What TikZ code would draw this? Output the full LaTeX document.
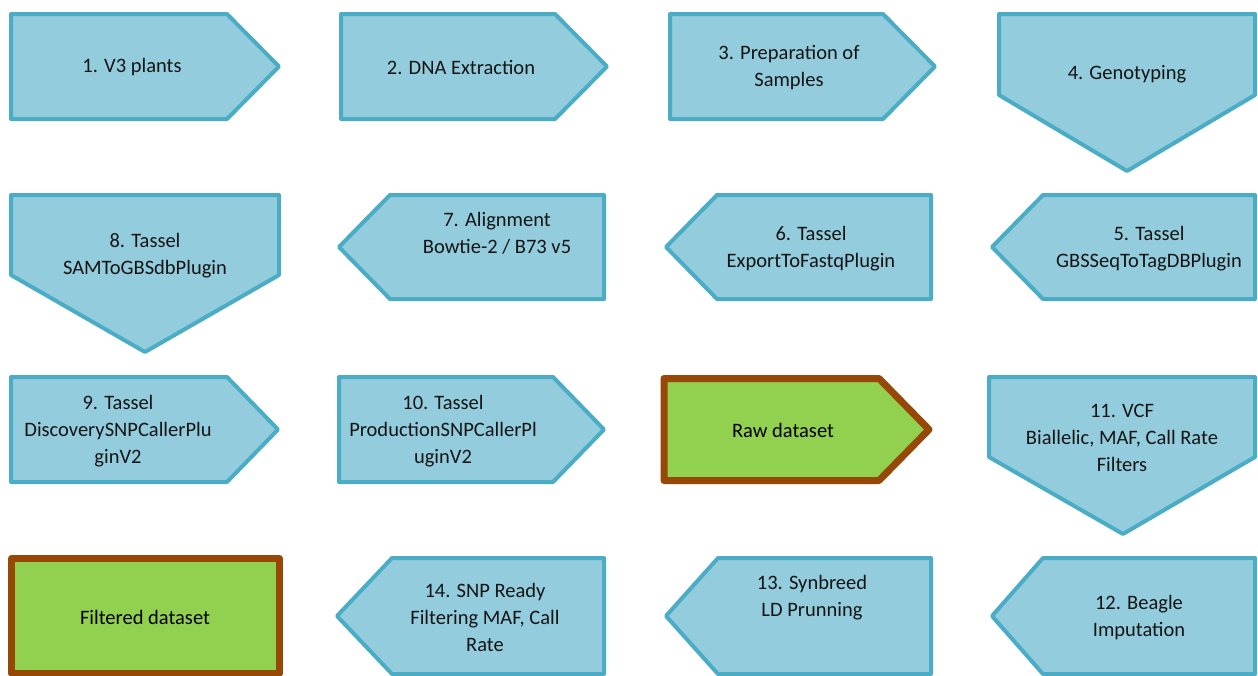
\documentclass[tikz,border=0pt]{standalone}
\usepackage{fontspec}
\setmainfont{Carlito}
\definecolor{bfill}{HTML}{93CDDD}
\definecolor{bline}{HTML}{4BACC6}
\definecolor{gfill}{HTML}{92D050}
\definecolor{brline}{HTML}{984806}
\definecolor{txt}{HTML}{141414}
\tikzset{
  bluebox/.style={fill=bfill,draw=bline,line width=4pt,line join=round},
  brownbox/.style={fill=gfill,draw=brline,line width=7pt,line join=round},
  lbl/.style={text=txt,align=center,inner sep=0pt,font=\fontsize{20.5}{27}\selectfont},
}
\begin{document}
\begin{tikzpicture}[x=1pt,y=-1pt]
\useasboundingbox (0,0) rectangle (1258,675);
% row 1
\draw[bluebox] (11,14) -- (227,14) -- (279,66.5) -- (227,119) -- (11,119) -- cycle;
\draw[bluebox] (341,14) -- (555,14) -- (607,66.5) -- (555,119) -- (341,119) -- cycle;
\draw[bluebox] (670,14) -- (883,14) -- (935,66.5) -- (883,119) -- (670,119) -- cycle;
\draw[bluebox] (999,14) -- (1255,14) -- (1255,95) -- (1127,171) -- (999,95) -- cycle;
\node[lbl] (t1) at (132,67) {1. V3 plants};
\node[lbl] (t2) at (461,67) {2. DNA Extraction};
\node[lbl] (t3) at (789,67.5) {3. Preparation of\\Samples};
\node[lbl] (t4) at (1127,74) {4. Genotyping};
% row 2
\draw[bluebox] (11,195) -- (279,195) -- (279,275) -- (145,352) -- (11,275) -- cycle;
\draw[bluebox] (339,247) -- (390,195) -- (604,195) -- (604,299) -- (390,299) -- cycle;
\draw[bluebox] (666,247) -- (717,195) -- (931,195) -- (931,299) -- (717,299) -- cycle;
\draw[bluebox] (992,247) -- (1043,195) -- (1255,195) -- (1255,299) -- (1043,299) -- cycle;
\node[lbl] (t8) at (145,255.5) {8. Tassel\\SAMToGBSdbPlugin};
\node[lbl] (t7) at (497,233.5) {7. Alignment\\Bowtie-2 / B73 v5};
\node[lbl] (t6) at (811,248.5) {6. Tassel\\ExportToFastqPlugin};
\node[lbl] (t5) at (1149,248.5) {5. Tassel\\GBSSeqToTagDBPlugin};
% row 3
\draw[bluebox] (11,377) -- (227,377) -- (278,429.5) -- (227,482) -- (11,482) -- cycle;
\draw[bluebox] (339,377) -- (553,377) -- (604,429.5) -- (553,482) -- (339,482) -- cycle;
\draw[brownbox] (664,378.5) -- (879,378.5) -- (929,429.5) -- (879,480.5) -- (664,480.5) -- cycle;
\draw[bluebox] (989,377) -- (1255,377) -- (1255,457) -- (1123,534) -- (989,457) -- cycle;
\node[lbl] (t9) at (118,431) {9. Tassel\\DiscoverySNPCallerPlu\\ginV2};
\node[lbl] (t10) at (443,431) {10. Tassel\\ProductionSNPCallerPl\\uginV2};
\node[lbl,text=black] (traw) at (783,430) {Raw dataset};
\node[lbl] (t11) at (1122,438) {11. VCF\\Biallelic, MAF, Call Rate\\Filters};
% row 4
\draw[brownbox] (11.5,558.5) rectangle (279.5,673);
\draw[bluebox] (337,616) -- (392,558) -- (604,558) -- (604,674) -- (392,674) -- cycle;
\draw[bluebox] (666,616) -- (718,558) -- (931,558) -- (931,674) -- (718,674) -- cycle;
\draw[bluebox] (992,616) -- (1043,558) -- (1255,558) -- (1255,674) -- (1043,674) -- cycle;
\node[lbl,text=black] (tfil) at (145,617) {Filtered dataset};
\node[lbl] (t14) at (485,617) {14. SNP Ready\\Filtering MAF, Call\\Rate};
\node[lbl] (t13) at (812,598) {13. Synbreed\\LD Prunning};
\node[lbl] (t12) at (1139,617.5) {12. Beagle\\Imputation};
\end{tikzpicture}
\end{document}
